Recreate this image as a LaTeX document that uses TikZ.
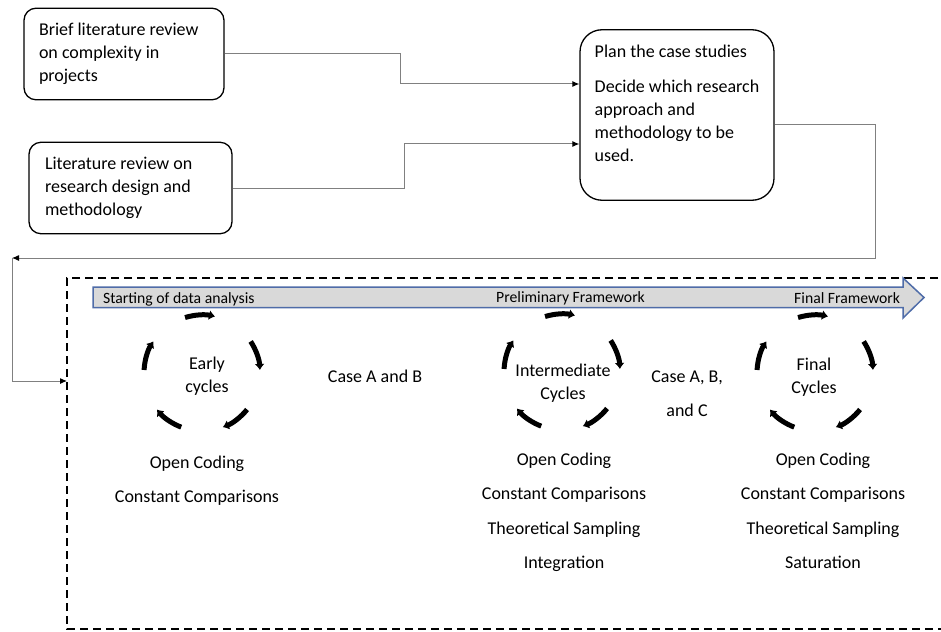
\documentclass[tikz,border=0pt]{standalone}
\usepackage{fontspec}
\setmainfont{Carlito}
\usepackage{tikz}
\usetikzlibrary{arrows.meta,calc}
\definecolor{bargray}{RGB}{217,217,217}
\definecolor{barblue}{RGB}{79,108,168}
\definecolor{linegray}{RGB}{128,128,128}

\begin{document}
\begin{tikzpicture}[x=1pt,y=1pt,% one unit is one pixel of the page
					every node/.style={
						inner sep=0pt,
						font=\fontsize{18}{23}\selectfont	% body text of the figure
						},
					box/.style={rectangle,rounded corners=12pt,draw=black,line width=1.3pt,align=flush left,inner sep=15pt},
					conn/.style={draw=linegray,line width=1pt,-{Latex[color=black,length=7pt,width=6pt]}},
					cyc/.style={line width=5pt,-{Latex[length=6pt,width=10pt]}},
					steps/.style={align=center,font=\fontsize{18}{34.5}\selectfont},	% lists below the cycles
					barlbl/.style={anchor=base west,font=\fontsize{15.7}{19}\selectfont}
					]
\useasboundingbox (0,0) rectangle (941,-631);

% top boxes
\node[box,text width=170pt,minimum width=200pt,minimum height=86pt](B1) at (124,-54){Brief literature review\\ on complexity in\\ projects};
\node[box,text width=171pt,inner xsep=16pt,minimum width=203pt,minimum height=86pt](B2) at (130.5,-188){Literature review on\\ research design and\\ methodology};
\node[box,rounded corners=22pt,inner xsep=13pt,minimum width=194pt,minimum height=156pt](B3) at (677,-115){Plan the case studies\\[12pt] Decide which research\\ approach and\\ methodology to be\\ used.\rule[-24pt]{0pt}{24pt}};

\coordinate (T1) at (12,-258);
\coordinate (F1) at (67,-381);
\draw[conn] (B1.east) -- ++(176,0) |- ($(B3.west)+(0,31)$);
\draw[conn] (B2.east) -- ++(172,0) |- ($(B3.west)+(0,-29)$);
\draw[conn] ($(B3.east)+(0,-10)$) -- ++(101,0) |- (T1);
\draw[conn] (T1) |- (F1);

% dashed frame, open on the right
\draw[line width=1.3pt,dash pattern=on 8pt off 5pt] (951,-278) -- (67,-278) -- (67,-629) -- (951,-629);

% time line
\filldraw[fill=bargray,draw=barblue,line width=1.5pt] (93,-287) -- (903,-287) -- (903,-278) -- (924,-297.5) -- (903,-318) -- (903,-307.5) -- (93,-307.5) -- cycle;
\node[barlbl](S1) at (103,-303){Starting of data analysis};
\node[barlbl](S2) at (496,-302){Preliminary Framework};
\node[barlbl](S3) at (794,-303){Final Framework};

% cycles
\coordinate (C1) at (202,-373);
\coordinate (C2) at (562,-372);
\coordinate (C3) at (815,-373);
\foreach \c in {C1,C2,C3}
	\foreach \a in {92,18,-54,-126,-198}
		\draw[cyc] ($(\c)+(\a+15:58)$) arc[start angle=\a+15,end angle=\a-15,radius=58];

\node[align=center,anchor=north](E1) at (207,-356.4){Early\\ cycles};
\node[align=center,anchor=north](E2) at (563,-363.4){Intermediate\\ Cycles};
\node[align=center,anchor=north](E3) at (814,-357.4){Final\\ Cycles};

\node[anchor=base](K1) at (375,-382){Case A and B};
\node[steps,anchor=north](K2) at (687,-370.3){Case A, B,\\ and C};

\node[steps,anchor=north](L1) at (197,-455.4){Open Coding\\ Constant Comparisons};
\node[steps,anchor=north](L2) at (564,-452.4){Open Coding\\ Constant Comparisons\\ Theoretical Sampling\\ Integration};
\node[steps,anchor=north](L3) at (823,-452.4){Open Coding\\ Constant Comparisons\\ Theoretical Sampling\\ Saturation};
\end{tikzpicture}
\end{document}
